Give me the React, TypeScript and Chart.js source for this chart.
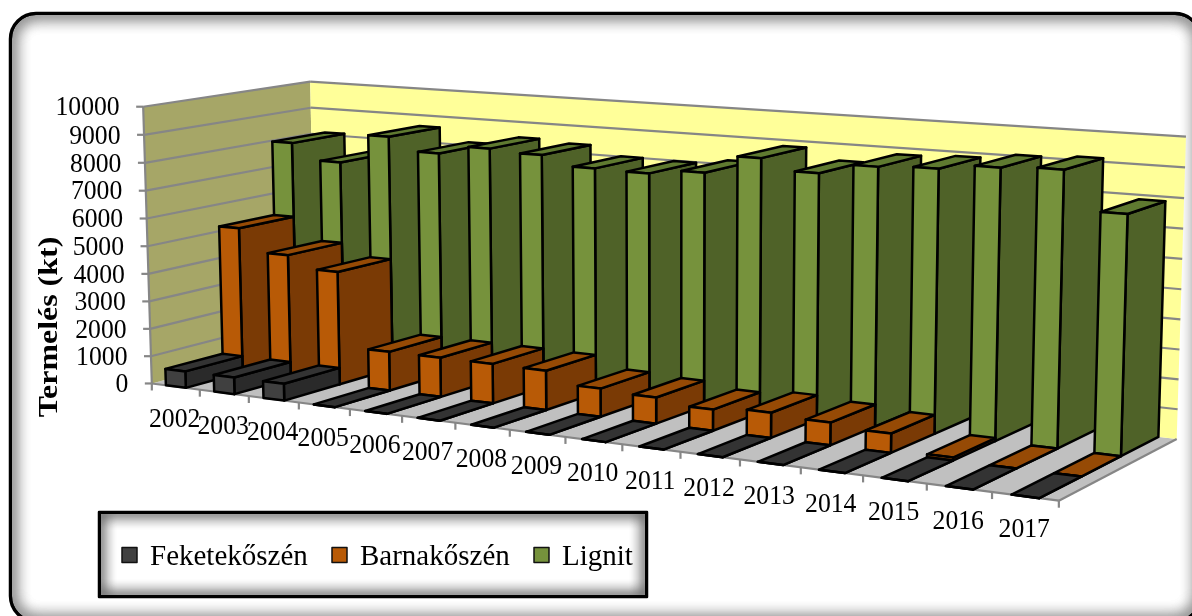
import React, { useEffect, useRef } from "react";
import { Chart, registerables } from "chart.js";

Chart.register(...registerables);

const years = ["2002","2003","2004","2005","2006","2007","2008","2009","2010","2011","2012","2013","2014","2015","2016","2017"];
const feketekoszen = [600,600,600,0,0,0,0,0,0,0,0,0,0,0,0,0];
const barnakoszen = [5330,4520,4090,1400,1400,1400,1380,980,900,720,850,760,640,100,0,0];
const lignit = [8090,7510,8590,8120,8430,8340,8010,7980,8150,8790,8420,8780,8860,9040,9120,7850];
const seriesNames = ["Feketekőszén","Barnakőszén","Lignit"];

// Face colours per series: front, side, top
const frontColors = ["#404040","#B85A06","#76923C"];
const sideColors = ["#2A2A2A","#7A3A05","#4F6228"];
const topColors = ["#333333","#964A05","#5F7A30"];

// Plot box calibration: [u, v, w] to screen corner
const boxCorners: number[][] = [
  [0,0,0,152,383.5],[0,1,0,143.3,106],[0,1,1,310,82],[1,1,1,1186,137],
  [1,0,1,1177,438],[1,0,0,1058.5,501.5],[0,0,1,315.5,339.5],
];

function solve(A: number[][], b: number[]): number[] {
  const n = b.length;
  const M = A.map((r, i) => [...r, b[i]]);
  for (let i = 0; i < n; i++) {
    let p = i;
    for (let k = i + 1; k < n; k++) if (Math.abs(M[k][i]) > Math.abs(M[p][i])) p = k;
    [M[i], M[p]] = [M[p], M[i]];
    for (let k = i + 1; k < n; k++) {
      const f = M[k][i] / M[i][i];
      for (let c = i; c <= n; c++) M[k][c] -= f * M[i][c];
    }
  }
  const x = new Array(n).fill(0);
  for (let i = n - 1; i >= 0; i--) {
    let s = M[i][n];
    for (let c = i + 1; c < n; c++) s -= M[i][c] * x[c];
    x[i] = s / M[i][i];
  }
  return x;
}

function fitProjection() {
  const rows: number[][] = [];
  const rhs: number[] = [];
  for (const [u, v, w, px, py] of boxCorners) {
    const X = px / 1000, Y = py / 1000;
    rows.push([u, v, w, 1, 0, 0, 0, 0, -X * u, -X * v, -X * w]); rhs.push(X);
    rows.push([0, 0, 0, 0, u, v, w, 1, -Y * u, -Y * v, -Y * w]); rhs.push(Y);
  }
  const n = 11;
  const ATA = Array.from({ length: n }, () => new Array(n).fill(0));
  const ATb = new Array(n).fill(0);
  rows.forEach((r, k) => {
    for (let i = 0; i < n; i++) {
      ATb[i] += r[i] * rhs[k];
      for (let j = 0; j < n; j++) ATA[i][j] += r[i] * r[j];
    }
  });
  const m = solve(ATA, ATb);
  return (u: number, v: number, w: number): [number, number] => {
    const d = m[8] * u + m[9] * v + m[10] * w + 1;
    return [
      ((m[0] * u + m[1] * v + m[2] * w + m[3]) / d) * 1000,
      ((m[4] * u + m[5] * v + m[6] * w + m[7]) / d) * 1000,
    ];
  };
}

function poly(ctx: CanvasRenderingContext2D, pts: [number, number][]) {
  ctx.beginPath();
  pts.forEach((p, i) => (i ? ctx.lineTo(p[0], p[1]) : ctx.moveTo(p[0], p[1])));
  ctx.closePath();
}

function line(ctx: CanvasRenderingContext2D, a: [number, number], b: [number, number]) {
  ctx.beginPath();
  ctx.moveTo(a[0], a[1]);
  ctx.lineTo(b[0], b[1]);
  ctx.stroke();
}

function tallText(ctx: CanvasRenderingContext2D, text: string, x: number, y: number, sy: number) {
  ctx.save();
  ctx.translate(x, y);
  ctx.scale(1, sy);
  ctx.fillText(text, 0, 0);
  ctx.restore();
}

function innerShadowBox(ctx: CanvasRenderingContext2D, x: number, y: number, w: number, h: number, r: number, blur: number) {
  ctx.save();
  ctx.beginPath();
  ctx.roundRect(x, y, w, h, r);
  ctx.fillStyle = "#FFFFFF";
  ctx.fill();
  ctx.clip();
  ctx.shadowColor = "#000";
  ctx.shadowBlur = blur;
  ctx.strokeStyle = "#000";
  ctx.lineWidth = 4;
  for (let k = 0; k < 2; k++) {
    ctx.beginPath();
    ctx.roundRect(x, y, w, h, r);
    ctx.stroke();
  }
  ctx.restore();
  ctx.strokeStyle = "#000";
  ctx.lineWidth = 2.5;
  ctx.beginPath();
  ctx.roundRect(x, y, w, h, r);
  ctx.stroke();
}

const SERIF = '"Liberation Serif"';
const GRID = "#868686";
const BAR_LO = 0.295;
const BAR_HI = 0.71;

const scene3d = {
  id: "scene3d",
  beforeDatasetsDraw(chart: any) {
    const ctx: CanvasRenderingContext2D = chart.ctx;
    const xs = chart.scales.x;
    const ys = chart.scales.y;
    const P = fitProjection();
    const uOf = (i: number, f: number) => {
      const band = xs.getPixelForTick(1) - xs.getPixelForTick(0);
      return (xs.getPixelForTick(i) + (f - 0.5) * band - xs.left) / xs.width;
    };
    const vOf = (val: number) => ys.getDecimalForPixel(ys.getPixelForValue(val));

    ctx.save();
    innerShadowBox(ctx, 10, 13, 1191, 609, 26, 16);

    // walls and floor
    ctx.lineJoin = "round";
    ctx.fillStyle = "#C0C0C0";
    poly(ctx, [P(0,0,0), P(1,0,0), P(1,0,1), P(0,0,1)]);
    ctx.fill();
    ctx.fillStyle = "#A6A667";
    poly(ctx, [P(0,0,0), P(0,1,0), P(0,1,1), P(0,0,1)]);
    ctx.fill();
    ctx.fillStyle = "#FFFF99";
    poly(ctx, [P(0,0,1), P(0,1,1), P(1,1,1), P(1,0,1)]);
    ctx.fill();

    ctx.strokeStyle = GRID;
    ctx.lineWidth = 2.2;
    ys.ticks.forEach((t: any) => {
      const v = vOf(t.value);
      if (v > 0) {
        line(ctx, P(0, v, 0), P(0, v, 1));
        line(ctx, P(0, v, 1), P(1, v, 1));
      }
      const a = P(0, v, 0);
      line(ctx, [a[0] - 7, a[1]], a);
    });
    line(ctx, P(0,0,0), P(0,1,0));
    line(ctx, P(0,0,0), P(1,0,0));
    line(ctx, P(1,0,0), P(1,0,1));
    for (let i = 0; i <= years.length; i++) {
      const a = P(i / years.length, 0, 0);
      line(ctx, a, [a[0], a[1] + 7]);
    }

    // bars: back series first, left to right
    const nS = chart.data.datasets.length;
    for (let s = nS - 1; s >= 0; s--) {
      const data = chart.data.datasets[s].data as number[];
      const w0 = s / nS, w1 = (s + 1) / nS;
      data.forEach((val, i) => {
        const u0 = uOf(i, BAR_LO), u1 = uOf(i, BAR_HI), v = vOf(val);
        ctx.lineWidth = 2.5;
        ctx.strokeStyle = "#000";
        const side = [P(u1,0,w0), P(u1,0,w1), P(u1,v,w1), P(u1,v,w0)] as [number,number][];
        const top = [P(u0,v,w0), P(u1,v,w0), P(u1,v,w1), P(u0,v,w1)] as [number,number][];
        const front = [P(u0,0,w0), P(u1,0,w0), P(u1,v,w0), P(u0,v,w0)] as [number,number][];
        ctx.fillStyle = sideColors[s]; poly(ctx, side); ctx.fill(); ctx.stroke();
        ctx.fillStyle = topColors[s]; poly(ctx, top); ctx.fill(); ctx.stroke();
        ctx.fillStyle = frontColors[s]; poly(ctx, front); ctx.fill(); ctx.stroke();
      });
    }

    // tick labels
    ctx.fillStyle = "#000";
    ctx.font = `25.7px ${SERIF}`;
    ctx.textAlign = "right";
    ctx.textBaseline = "middle";
    ys.ticks.forEach((t: any) => {
      const a = P(0, vOf(t.value), 0);
      tallText(ctx, String(t.value), a[0] - 23.5, a[1] + 1.5, 1.07);
    });
    ctx.textAlign = "center";
    chart.data.labels.forEach((lab: string, i: number) => {
      const a = P(uOf(i, 0.5), 0, 0);
      tallText(ctx, lab, a[0] - 1, a[1] + 33.5, 1.07);
    });

    // axis title
    ctx.save();
    ctx.translate(50, 327);
    ctx.rotate(-Math.PI / 2);
    ctx.scale(1.14, 1);
    ctx.font = `bold 28px ${SERIF}`;
    ctx.fillText("Termelés (kt)", 0, 0);
    ctx.restore();

    // legend
    innerShadowBox(ctx, 99, 512, 548, 85, 0, 14);
    const legendX = [122, 332, 534];
    ctx.font = `29px ${SERIF}`;
    ctx.textAlign = "left";
    ctx.textBaseline = "alphabetic";
    chart.data.datasets.forEach((d: any, s: number) => {
      ctx.fillStyle = frontColors[s];
      ctx.strokeStyle = "#111";
      ctx.lineWidth = 1.5;
      ctx.fillRect(legendX[s], 547.5, 15, 15);
      ctx.strokeRect(legendX[s], 547.5, 15, 15);
      ctx.fillStyle = "#000";
      tallText(ctx, d.label, legendX[s] + 28, 565, 1.05);
    });
    ctx.restore();
    return false;
  },
};

export default function App() {
  const ref = useRef<HTMLCanvasElement>(null);
  useEffect(() => {
    const chart = new Chart(ref.current as HTMLCanvasElement, {
      type: "bar",
      data: {
        labels: years,
        datasets: [
          { label: seriesNames[0], data: feketekoszen, backgroundColor: frontColors[0] },
          { label: seriesNames[1], data: barnakoszen, backgroundColor: frontColors[1] },
          { label: seriesNames[2], data: lignit, backgroundColor: frontColors[2] },
        ],
      },
      options: {
        responsive: false,
        animation: false,
        plugins: { legend: { display: false }, tooltip: { enabled: false } },
        scales: {
          x: { display: false },
          y: { display: false, min: 0, max: 10000, ticks: { stepSize: 1000 } },
        },
      },
      plugins: [scene3d],
    });
    return () => chart.destroy();
  }, []);
  return (
    <canvas
      ref={ref}
      width={1192}
      height={616}
      style={{ position: "absolute", left: 0, top: 0, display: "block" }}
    />
  );
}
